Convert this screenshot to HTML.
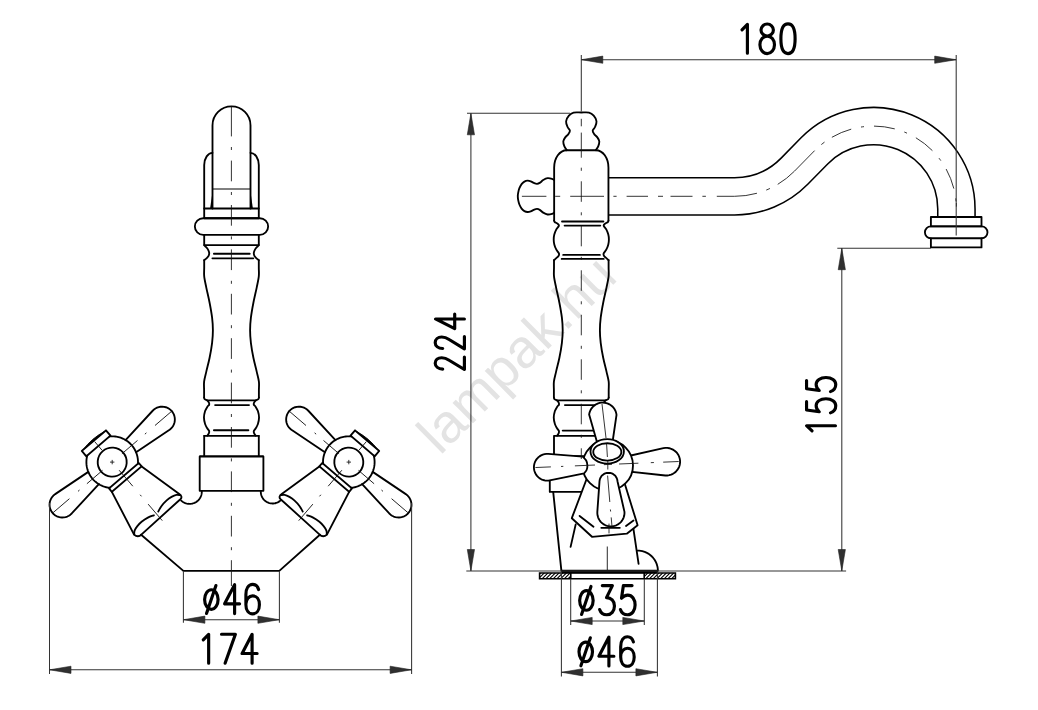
<!DOCTYPE html>
<html><head><meta charset="utf-8"><title>drawing</title>
<style>
html,body{margin:0;padding:0;background:#fff;}
body{width:1038px;height:710px;overflow:hidden;position:relative;font-family:"Liberation Sans",sans-serif;}
svg{position:absolute;left:0;top:0;display:block}
.m{fill:none;stroke:#000;stroke-width:1.85;stroke-linecap:round;stroke-linejoin:round}
.mw{fill:#fff;stroke:#000;stroke-width:1.85;stroke-linecap:round;stroke-linejoin:round}
.k{fill:none;stroke:#000;stroke-width:2.4;stroke-linecap:butt}
.t{fill:none;stroke:#333;stroke-width:1.05;stroke-linecap:butt}
.c{fill:none;stroke:#111;stroke-width:0.85;stroke-linecap:butt}
.g{fill:none;stroke:#000;stroke-width:3.15;stroke-linecap:round;stroke-linejoin:round}
.a{fill:#303030;stroke:#222;stroke-width:0.6;stroke-linejoin:miter}
.wm{font-family:"Liberation Sans",sans-serif;fill:#e3e3e3;mix-blend-mode:multiply}
</style></head><body>
<svg width="1038" height="710" viewBox="0 0 1038 710">
<rect x="0" y="0" width="1038" height="710" fill="#fff"/>
<g id="front">
<path class="m" d="M212.5 208.5 V125.4 A19 19 0 0 1 250.5 125.4 V208.5"/>
<path class="m" d="M212.5 189 L250.5 189" style="stroke-width:1"/>
<path class="m" d="M204.2 208.5 V165 A8.3 12.4 0 0 1 212.5 152.8"/>
<path d="M212.5 192 L212.5 208.5 L210.1 208.5 Z" fill="#000"/>
<path class="m" d="M258.8 208.5 V165 A8.3 12.4 0 0 0 250.5 152.8"/>
<path d="M250.5 192 L250.5 208.5 L252.9 208.5 Z" fill="#000"/>
<path class="m" d="M204.2 208.5 H258.8 V218.2 H204.2 Z"/>
<rect class="m" x="194.85" y="218.2" width="73.3" height="16.7" rx="8.35" ry="8.35"/>
<path class="m" d="M204.2 234.9 V245.1 H258.8 V234.9"/>
<path class="m" d="M204.2 245.1 C204.38 245.3 204.68 245.58 205.3 246.3 C205.92 247.01 207.25 248.29 207.9 249.39 C208.55 250.49 209.08 251.83 209.2 252.9 C209.32 253.97 209.02 254.94 208.6 255.82 C208.18 256.7 207.43 257.43 206.7 258.16 C205.97 258.89 204.62 259.86 204.2 260.2"/>
<path class="m" d="M204.2 260.2 C204.2 261.5 204.2 265.3 204.2 268 C204.2 270.7 203.85 273.13 204.2 276.4 C204.55 279.67 205.4 283.22 206.3 287.6 C207.2 291.98 208.63 297.68 209.6 302.7 C210.57 307.72 211.55 313.12 212.1 317.7 C212.65 322.28 212.9 326.02 212.9 330.2 C212.9 334.38 212.65 338.2 212.1 342.8 C211.55 347.4 210.57 353 209.6 357.8 C208.63 362.6 207.22 367.63 206.3 371.6 C205.38 375.57 204.47 378.53 204.1 381.6 C203.73 384.67 204.1 387.33 204.1 390 C204.1 392.67 204.1 396.33 204.1 397.6"/>
<path class="m" d="M204.1 397.6 C204.23 397.9 204.37 398.93 204.9 399.4 C205.43 399.87 206.63 399.87 207.3 400.4 C207.97 400.93 208.58 401.9 208.9 402.6 C209.22 403.3 209.47 403.88 209.2 404.6 C208.92 405.33 207.93 405.87 207.25 406.95 C206.57 408.03 205.65 409.33 205.1 411.1 C204.55 412.88 203.95 415.43 203.95 417.6 C203.95 419.77 204.55 422.33 205.1 424.1 C205.65 425.88 206.57 427.07 207.25 428.25 C207.93 429.43 208.96 430.31 209.2 431.2 C209.44 432.09 209.02 432.83 208.7 433.6 C208.38 434.37 207.53 435.43 207.3 435.8"/>
<path class="m" d="M258.8 245.1 C258.62 245.3 258.32 245.58 257.7 246.3 C257.08 247.01 255.75 248.29 255.1 249.39 C254.45 250.49 253.92 251.83 253.8 252.9 C253.68 253.97 253.98 254.94 254.4 255.82 C254.82 256.7 255.57 257.43 256.3 258.16 C257.03 258.89 258.38 259.86 258.8 260.2"/>
<path class="m" d="M258.8 260.2 C258.8 261.5 258.8 265.3 258.8 268 C258.8 270.7 259.15 273.13 258.8 276.4 C258.45 279.67 257.6 283.22 256.7 287.6 C255.8 291.98 254.37 297.68 253.4 302.7 C252.43 307.72 251.45 313.12 250.9 317.7 C250.35 322.28 250.1 326.02 250.1 330.2 C250.1 334.38 250.35 338.2 250.9 342.8 C251.45 347.4 252.43 353 253.4 357.8 C254.37 362.6 255.78 367.63 256.7 371.6 C257.62 375.57 258.53 378.53 258.9 381.6 C259.27 384.67 258.9 387.33 258.9 390 C258.9 392.67 258.9 396.33 258.9 397.6"/>
<path class="m" d="M258.9 397.6 C258.77 397.9 258.63 398.93 258.1 399.4 C257.57 399.87 256.37 399.87 255.7 400.4 C255.03 400.93 254.42 401.9 254.1 402.6 C253.78 403.3 253.53 403.88 253.8 404.6 C254.08 405.33 255.07 405.87 255.75 406.95 C256.43 408.03 257.35 409.33 257.9 411.1 C258.45 412.88 259.05 415.43 259.05 417.6 C259.05 419.77 258.45 422.33 257.9 424.1 C257.35 425.88 256.43 427.07 255.75 428.25 C255.07 429.43 254.04 430.31 253.8 431.2 C253.56 432.09 253.98 432.83 254.3 433.6 C254.62 434.37 255.47 435.43 255.7 435.8"/>
<path class="m" d="M213.9 253.7 L249.7 253.7"/>
<path class="m" d="M212.4 258.3 L253.3 258.3"/>
<path class="m" d="M207.6 400.4 L255.4 400.4"/>
<path class="m" d="M215.1 405.1 L249 405.1"/>
<path class="m" d="M213.9 430.2 L248.4 430.2"/>
<path class="m" d="M204.2 435.8 L258.8 435.8"/>
<path class="m" d="M204.2 435.8 V455.9 M258.8 435.8 V455.9"/>
<path class="m" d="M199.7 456.5 V490.8 H263.4 V456.5"/>
<path class="k" d="M199.7 456.4 L263.4 456.4"/>
<path class="m" d="M260.81 491.29 L260.81 492.22 L260.89 493.15 L261.04 494.07 L261.26 494.98 L261.56 495.86 L261.92 496.72 L262.35 497.55 L262.85 498.34 L263.4 499.09 L264.02 499.8 L264.68 500.45 L265.4 501.05 L266.16 501.59 L266.96 502.07 L267.8 502.48 L268.67 502.83 L269.56 503.1 L270.47 503.31 L271.39 503.44 L272.33 503.5 L273.26 503.48 L274.19 503.39 L275.11 503.23 L276.01 503 L276.89 502.69 L277.75 502.32 L278.57 501.88 L279.36 501.37 L280.1 500.81 L280.8 500.19"/>
<path class="m" d="M181.13 500.48 L181.85 501.12 L182.61 501.7 L183.43 502.22 L184.28 502.68 L185.16 503.06 L186.07 503.38 L187.01 503.62 L187.96 503.79 L188.92 503.88 L189.88 503.9 L190.85 503.84 L191.8 503.7 L192.74 503.49 L193.67 503.2 L194.56 502.85 L195.43 502.42 L196.26 501.92 L197.04 501.37 L197.78 500.75 L198.47 500.07 L199.11 499.34 L199.68 498.57 L200.19 497.75 L200.64 496.89 L201.01 496.01 L201.32 495.09 L201.55 494.15 L201.71 493.2 L201.79 492.24 L201.79 491.27"/>
<path class="m" d="M141.1 534.7 L183.4 570.9 L279.3 570.9 L319.9 534.7"/>
<g transform="matrix(0.76 0.65 -0.65 0.76 348.8 462.1)"><path class="m" d="M24.5 -8.1 L64.13 -12.72 M64.13 -12.72 L65.92 -12.8 L67.71 -12.62 L69.46 -12.2 L71.13 -11.54 L72.69 -10.66 L74.11 -9.56 L75.37 -8.27 L76.43 -6.82 L77.28 -5.24 L77.9 -3.55 L78.27 -1.79 L78.4 -0 L78.27 1.79 L77.9 3.55 L77.28 5.24 L76.43 6.82 L75.37 8.27 L74.11 9.56 L72.69 10.66 L71.13 11.54 L69.46 12.2 L67.71 12.62 L65.92 12.8 L64.13 12.72 L24.5 8.1"/><path class="m" d="M-24.5 -8.1 L-64.13 -12.72 M-64.13 -12.72 L-65.92 -12.8 L-67.71 -12.62 L-69.46 -12.2 L-71.13 -11.54 L-72.69 -10.66 L-74.11 -9.56 L-75.37 -8.27 L-76.43 -6.82 L-77.28 -5.24 L-77.9 -3.55 L-78.27 -1.79 L-78.4 -0 L-78.27 1.79 L-77.9 3.55 L-77.28 5.24 L-76.43 6.82 L-75.37 8.27 L-74.11 9.56 L-72.69 10.66 L-71.13 11.54 L-69.46 12.2 L-67.71 12.62 L-65.92 12.8 L-64.13 12.72 L-24.5 8.1"/><path class="m" d="M14.7 -21.2 L15.61 -20.54 L16.48 -19.85 L17.33 -19.11 L18.14 -18.34 L18.92 -17.54 L19.66 -16.7 L20.37 -15.83 L21.04 -14.93 L21.67 -14.01 L22.25 -13.05 L22.8 -12.08 L23.3 -11.07 L23.76 -10.05 L24.17 -9.01 L24.54 -7.95 L24.87 -6.88 L25.14 -5.8 L25.37 -4.7 L25.55 -3.6 L25.68 -2.48 L25.76 -1.37 L25.8 -0.25 L25.79 0.87 L25.72 1.99 L25.61 3.1 L25.45 4.21 L25.25 5.31 L24.99 6.4 L24.69 7.48 L24.34 8.55 L23.95 9.59 L23.51 10.63 L23.03 11.64 L22.5 12.62 L21.93 13.59 L21.32 14.53 L20.67 15.44 L19.98 16.32 L19.25 17.17 L18.49 17.99"/><path class="m" d="M-14.7 -21.2 L-15.61 -20.54 L-16.48 -19.85 L-17.33 -19.11 L-18.14 -18.34 L-18.92 -17.54 L-19.66 -16.7 L-20.37 -15.83 L-21.04 -14.93 L-21.67 -14.01 L-22.25 -13.05 L-22.8 -12.08 L-23.3 -11.07 L-23.76 -10.05 L-24.17 -9.01 L-24.54 -7.95 L-24.87 -6.88 L-25.14 -5.8 L-25.37 -4.7 L-25.55 -3.6 L-25.68 -2.48 L-25.76 -1.37 L-25.8 -0.25 L-25.79 0.87 L-25.72 1.99 L-25.61 3.1 L-25.45 4.21 L-25.25 5.31 L-24.99 6.4 L-24.69 7.48 L-24.34 8.55 L-23.95 9.59 L-23.51 10.63 L-23.03 11.64 L-22.5 12.62 L-21.93 13.59 L-21.32 14.53 L-20.67 15.44 L-19.98 16.32 L-19.25 17.17 L-18.49 17.99"/><path class="m" d="M-14.5 0 A14.5 14.5 0 1 1 14.5 0 A14.5 14.5 0 1 1 -14.5 0 Z"/><path class="m" d="M-15.9 -21.2 H15.9 V-28.2 H-15.9 Z"/><path d="M-14.5 -28.2 Q0 -31.6 14.5 -28.2 Z" fill="#000" stroke="#000" stroke-width="0.8"/><path class="m" d="M-19.6 18 H19.6 V22.4 H-19.6 Z"/><path class="m" d="M-19.6 22.4 L-30.2 67.9 Q-31.3 72.3 -27.7 72.5 L24.6 74 Q29.8 74.6 30.5 69.3 L19.6 22.4"/><path class="m" d="M30.3 69.3 C29.83 68.85 28.8 67.32 27.5 66.6 C26.2 65.88 24.33 65.35 22.5 65 C20.67 64.65 18.75 64.43 16.5 64.5 C14.25 64.57 11.27 64.9 9 65.4 C6.73 65.9 3.92 67.15 2.9 67.5"/><path class="m" d="M-30.3 69.3 C-29.83 68.85 -28.8 67.32 -27.5 66.6 C-26.2 65.88 -24.33 65.35 -22.5 65 C-20.67 64.65 -18.75 64.43 -16.5 64.5 C-14.25 64.57 -11.27 64.9 -9 65.4 C-6.73 65.9 -3.92 67.15 -2.9 67.5"/><path class="c" d="M-79 0 H-56.3 M-45 0 H-43 M-33.3 0 H-12.8 M12.8 0 H33.3 M43 0 H45 M56.3 0 H79"/><path class="c" d="M0 -27 V-15.5 M0 10.7 V31.7 M0 43 V45 M0 55.3 V77"/></g>
<g transform="matrix(-0.76 0.65 0.65 0.76 112.2 462.1)"><path class="m" d="M24.5 -8.1 L64.13 -12.72 M64.13 -12.72 L65.92 -12.8 L67.71 -12.62 L69.46 -12.2 L71.13 -11.54 L72.69 -10.66 L74.11 -9.56 L75.37 -8.27 L76.43 -6.82 L77.28 -5.24 L77.9 -3.55 L78.27 -1.79 L78.4 -0 L78.27 1.79 L77.9 3.55 L77.28 5.24 L76.43 6.82 L75.37 8.27 L74.11 9.56 L72.69 10.66 L71.13 11.54 L69.46 12.2 L67.71 12.62 L65.92 12.8 L64.13 12.72 L24.5 8.1"/><path class="m" d="M-24.5 -8.1 L-64.13 -12.72 M-64.13 -12.72 L-65.92 -12.8 L-67.71 -12.62 L-69.46 -12.2 L-71.13 -11.54 L-72.69 -10.66 L-74.11 -9.56 L-75.37 -8.27 L-76.43 -6.82 L-77.28 -5.24 L-77.9 -3.55 L-78.27 -1.79 L-78.4 -0 L-78.27 1.79 L-77.9 3.55 L-77.28 5.24 L-76.43 6.82 L-75.37 8.27 L-74.11 9.56 L-72.69 10.66 L-71.13 11.54 L-69.46 12.2 L-67.71 12.62 L-65.92 12.8 L-64.13 12.72 L-24.5 8.1"/><path class="m" d="M14.7 -21.2 L15.61 -20.54 L16.48 -19.85 L17.33 -19.11 L18.14 -18.34 L18.92 -17.54 L19.66 -16.7 L20.37 -15.83 L21.04 -14.93 L21.67 -14.01 L22.25 -13.05 L22.8 -12.08 L23.3 -11.07 L23.76 -10.05 L24.17 -9.01 L24.54 -7.95 L24.87 -6.88 L25.14 -5.8 L25.37 -4.7 L25.55 -3.6 L25.68 -2.48 L25.76 -1.37 L25.8 -0.25 L25.79 0.87 L25.72 1.99 L25.61 3.1 L25.45 4.21 L25.25 5.31 L24.99 6.4 L24.69 7.48 L24.34 8.55 L23.95 9.59 L23.51 10.63 L23.03 11.64 L22.5 12.62 L21.93 13.59 L21.32 14.53 L20.67 15.44 L19.98 16.32 L19.25 17.17 L18.49 17.99"/><path class="m" d="M-14.7 -21.2 L-15.61 -20.54 L-16.48 -19.85 L-17.33 -19.11 L-18.14 -18.34 L-18.92 -17.54 L-19.66 -16.7 L-20.37 -15.83 L-21.04 -14.93 L-21.67 -14.01 L-22.25 -13.05 L-22.8 -12.08 L-23.3 -11.07 L-23.76 -10.05 L-24.17 -9.01 L-24.54 -7.95 L-24.87 -6.88 L-25.14 -5.8 L-25.37 -4.7 L-25.55 -3.6 L-25.68 -2.48 L-25.76 -1.37 L-25.8 -0.25 L-25.79 0.87 L-25.72 1.99 L-25.61 3.1 L-25.45 4.21 L-25.25 5.31 L-24.99 6.4 L-24.69 7.48 L-24.34 8.55 L-23.95 9.59 L-23.51 10.63 L-23.03 11.64 L-22.5 12.62 L-21.93 13.59 L-21.32 14.53 L-20.67 15.44 L-19.98 16.32 L-19.25 17.17 L-18.49 17.99"/><path class="m" d="M-14.5 0 A14.5 14.5 0 1 1 14.5 0 A14.5 14.5 0 1 1 -14.5 0 Z"/><path class="m" d="M-15.9 -21.2 H15.9 V-28.2 H-15.9 Z"/><path d="M-14.5 -28.2 Q0 -31.6 14.5 -28.2 Z" fill="#000" stroke="#000" stroke-width="0.8"/><path class="m" d="M-19.6 18 H19.6 V22.4 H-19.6 Z"/><path class="m" d="M-19.6 22.4 L-30.2 67.9 Q-31.3 72.3 -27.7 72.5 L24.6 74 Q29.8 74.6 30.5 69.3 L19.6 22.4"/><path class="m" d="M30.3 69.3 C29.83 68.85 28.8 67.32 27.5 66.6 C26.2 65.88 24.33 65.35 22.5 65 C20.67 64.65 18.75 64.43 16.5 64.5 C14.25 64.57 11.27 64.9 9 65.4 C6.73 65.9 3.92 67.15 2.9 67.5"/><path class="m" d="M-30.3 69.3 C-29.83 68.85 -28.8 67.32 -27.5 66.6 C-26.2 65.88 -24.33 65.35 -22.5 65 C-20.67 64.65 -18.75 64.43 -16.5 64.5 C-14.25 64.57 -11.27 64.9 -9 65.4 C-6.73 65.9 -3.92 67.15 -2.9 67.5"/><path class="c" d="M-79 0 H-56.3 M-45 0 H-43 M-33.3 0 H-12.8 M12.8 0 H33.3 M43 0 H45 M56.3 0 H79"/><path class="c" d="M0 -27 V-15.5 M0 10.7 V31.7 M0 43 V45 M0 55.3 V77"/></g>
<path class="c" d="M346.6 462.1 H351 M348.8 459.9 V464.3 M110 462.1 H114.4 M112.2 459.9 V464.3"/>
<path class="c" d="M231.4 106.3 V136.4 M231.4 147 V150 M231.4 160.6 V181.3 M231.4 192 V195 M231.4 205 V225.7 M231.4 236.4 V239.4 M231.4 249.4 V270.1 M231.4 280.8 V283.8 M231.4 293.8 V314.5 M231.4 325.2 V328.2 M231.4 338.2 V358.9 M231.4 369.6 V372.6 M231.4 382.6 V403.3 M231.4 414 V417 M231.4 427 V447.7 M231.4 458.4 V461.4 M231.4 471.4 V492.1 M231.4 502.8 V505.8 M231.4 515.8 V536.5 M231.4 547.2 V550.2 M231.4 560.2 V586"/>
</g>
<g id="side">
<path d="M608.3 196.3 H734.53 A84 84 0 0 0 794.44 171.18 L814.37 150.89 A82.9 82.9 0 0 1 956.4 209 V216.8" fill="none" stroke="#000" stroke-width="38.85" stroke-linecap="butt"/>
<path d="M608.3 196.3 H734.53 A84 84 0 0 0 794.44 171.18 L814.37 150.89 A82.9 82.9 0 0 1 956.4 209 V218" fill="none" stroke="#fff" stroke-width="35.75" stroke-linecap="butt"/>
<path class="c" d="M521.9 196.3 H734.53 A84 84 0 0 0 794.44 171.18 L814.37 150.89 A82.9 82.9 0 0 1 956.4 209 V203" stroke-dasharray="24.5 8.8 5 10 33.8 9.4 3.2 10 21.4 10 5 7.5 22 9.9 3.5 10.9 40.4 9.8 4 8.8 50.2 9 4 8.8 21 10 3 10 21 10 3 10 21 10 3 10 21 10 3 10 21 10 3 10 21 10 3 10 21 10 3 10 21 10 3 10 21 10 3 10 21 10 3 10 21 10 3 10 21 10 3 10"/>
<path class="m" d="M930.9 217 H981.5 V226.4 H930.9 Z"/>
<rect class="m" x="924.9" y="226.4" width="62.6" height="11.9" rx="5.95" ry="5.95"/>
<path class="m" d="M930.9 238.3 V247.4 H981.5 V238.3"/>
<path class="m" d="M566.7 150.1 C566.3 149.43 564.87 147.55 564.3 146.1 C563.73 144.65 563.17 142.82 563.3 141.4 C563.43 139.98 564.25 138.82 565.1 137.6 C565.95 136.38 567.6 135.25 568.4 134.1 C569.2 132.95 570.03 131.88 569.9 130.7 C569.77 129.52 568.23 128.57 567.6 127 C566.97 125.43 565.88 123.18 566.1 121.3 C566.32 119.42 567.65 117.15 568.9 115.7 C570.15 114.25 571.53 113.13 573.6 112.6 C575.67 112.07 578.73 112.5 581.3 112.5 C583.87 112.5 586.93 112.07 589 112.6 C591.07 113.13 592.45 114.25 593.7 115.7 C594.95 117.15 596.28 119.42 596.5 121.3 C596.72 123.18 595.63 125.43 595 127 C594.37 128.57 592.83 129.52 592.7 130.7 C592.57 131.88 593.4 132.95 594.2 134.1 C595 135.25 596.65 136.38 597.5 137.6 C598.35 138.82 599.17 139.98 599.3 141.4 C599.43 142.82 598.87 144.65 598.3 146.1 C597.73 147.55 596.3 149.43 595.9 150.1"/>
<path class="m" d="M566.6 150.2 H596"/>
<path class="m" d="M566.6 150.2 A12.45 17.5 0 0 0 554.15 167.7 V220.6"/>
<path class="m" d="M554.15 220.6 C554.24 220.83 554.14 221.5 554.7 222 C555.26 222.5 556.8 222.98 557.5 223.6 C558.2 224.22 559.12 224.7 558.9 225.7 C558.68 226.7 556.97 228.12 556.2 229.6 C555.43 231.08 554.72 232.97 554.3 234.6 C553.88 236.23 553.7 237.77 553.7 239.4 C553.7 241.03 553.88 242.73 554.3 244.4 C554.72 246.07 555.42 247.87 556.2 249.4 C556.98 250.93 558.62 252.5 559 253.6 C559.38 254.7 558.92 255.28 558.5 256 C558.08 256.72 557.25 257.2 556.5 257.9 C555.75 258.6 554.42 259.82 554 260.2"/>
<path class="m" d="M596 150.2 A12.45 17.5 0 0 1 608.45 167.7 V220.6"/>
<path class="m" d="M608.45 220.6 C608.36 220.83 608.46 221.5 607.9 222 C607.34 222.5 605.8 222.98 605.1 223.6 C604.4 224.22 603.48 224.7 603.7 225.7 C603.92 226.7 605.63 228.12 606.4 229.6 C607.17 231.08 607.88 232.97 608.3 234.6 C608.72 236.23 608.9 237.77 608.9 239.4 C608.9 241.03 608.72 242.73 608.3 244.4 C607.88 246.07 607.18 247.87 606.4 249.4 C605.62 250.93 603.98 252.5 603.6 253.6 C603.22 254.7 603.68 255.28 604.1 256 C604.52 256.72 605.35 257.2 606.1 257.9 C606.85 258.6 608.18 259.82 608.6 260.2"/>
<path class="m" d="M562 221.5 L603.4 221.5"/>
<path class="m" d="M564.6 225.6 L600.3 225.6"/>
<path class="m" d="M563.2 254.9 L599.9 254.9"/>
<path class="m" d="M561.7 258.9 L603.7 258.9"/>
<path class="m" d="M554.15 180.05 C553.79 179.84 553.09 179.11 552 178.8 C550.91 178.49 549.07 177.99 547.6 178.2 C546.13 178.41 544.45 179.32 543.2 180.05 C541.95 180.78 541.13 181.97 540.1 182.6 C539.07 183.22 538.05 183.75 537 183.8 C535.95 183.85 534.85 183.32 533.8 182.9 C532.75 182.48 531.73 181.67 530.7 181.3 C529.67 180.93 528.65 180.65 527.6 180.7 C526.55 180.75 525.4 181.03 524.4 181.6 C523.4 182.17 522.43 183 521.6 184.1 C520.77 185.2 519.97 186.78 519.4 188.2 C518.83 189.62 518.47 191.24 518.2 192.6 C517.93 193.96 517.8 195.1 517.8 196.35 C517.8 197.6 517.93 198.74 518.2 200.1 C518.47 201.46 518.83 203.08 519.4 204.5 C519.97 205.92 520.77 207.5 521.6 208.6 C522.43 209.7 523.4 210.53 524.4 211.1 C525.4 211.67 526.55 211.95 527.6 212 C528.65 212.05 529.67 211.77 530.7 211.4 C531.73 211.03 532.75 210.22 533.8 209.8 C534.85 209.38 535.95 208.85 537 208.9 C538.05 208.95 539.07 209.47 540.1 210.1 C541.13 210.72 541.95 211.92 543.2 212.65 C544.45 213.38 546.13 214.29 547.6 214.5 C549.07 214.71 550.91 214.21 552 213.9 C553.09 213.59 553.79 212.86 554.15 212.65"/>
<path class="m" d="M554 260.2 C554 261.5 554 265.3 554 268 C554 270.7 553.65 273.13 554 276.4 C554.35 279.67 555.2 283.22 556.1 287.6 C557 291.98 558.43 297.68 559.4 302.7 C560.37 307.72 561.35 313.12 561.9 317.7 C562.45 322.28 562.7 326.02 562.7 330.2 C562.7 334.38 562.45 338.2 561.9 342.8 C561.35 347.4 560.37 353 559.4 357.8 C558.43 362.6 557.02 367.63 556.1 371.6 C555.18 375.57 554.27 378.53 553.9 381.6 C553.53 384.67 553.9 387.33 553.9 390 C553.9 392.67 553.9 396.33 553.9 397.6"/>
<path class="m" d="M553.9 397.6 C554.03 397.9 554.17 398.93 554.7 399.4 C555.23 399.87 556.43 399.87 557.1 400.4 C557.77 400.93 558.38 401.9 558.7 402.6 C559.02 403.3 559.27 403.88 559 404.6 C558.73 405.33 557.73 405.87 557.05 406.95 C556.37 408.03 555.45 409.33 554.9 411.1 C554.35 412.88 553.75 415.43 553.75 417.6 C553.75 419.77 554.35 422.33 554.9 424.1 C555.45 425.88 556.37 427.07 557.05 428.25 C557.73 429.43 558.76 430.31 559 431.2 C559.24 432.09 558.82 432.83 558.5 433.6 C558.18 434.37 557.33 435.43 557.1 435.8"/>
<path class="m" d="M608.6 260.2 C608.6 261.5 608.6 265.3 608.6 268 C608.6 270.7 608.95 273.13 608.6 276.4 C608.25 279.67 607.4 283.22 606.5 287.6 C605.6 291.98 604.17 297.68 603.2 302.7 C602.23 307.72 601.25 313.12 600.7 317.7 C600.15 322.28 599.9 326.02 599.9 330.2 C599.9 334.38 600.15 338.2 600.7 342.8 C601.25 347.4 602.23 353 603.2 357.8 C604.17 362.6 605.58 367.63 606.5 371.6 C607.42 375.57 608.33 378.53 608.7 381.6 C609.07 384.67 608.7 387.33 608.7 390 C608.7 392.67 608.7 396.33 608.7 397.6"/>
<path class="m" d="M608.7 397.6 C608.57 397.9 608.43 398.93 607.9 399.4 C607.37 399.87 606.17 399.87 605.5 400.4 C604.83 400.93 604.22 401.9 603.9 402.6 C603.58 403.3 603.32 403.88 603.6 404.6 C603.87 405.33 604.87 405.87 605.55 406.95 C606.23 408.03 607.15 409.33 607.7 411.1 C608.25 412.88 608.85 415.43 608.85 417.6 C608.85 419.77 608.25 422.33 607.7 424.1 C607.15 425.88 606.23 427.07 605.55 428.25 C604.87 429.43 603.84 430.31 603.6 431.2 C603.36 432.09 603.78 432.83 604.1 433.6 C604.42 434.37 605.27 435.43 605.5 435.8"/>
<path class="m" d="M557.4 400.4 L605.2 400.4"/>
<path class="m" d="M564.9 405.1 L598.8 405.1"/>
<path class="m" d="M562.7 430.6 L598.2 430.6"/>
<path class="m" d="M554 435.8 H608.6 M554 435.8 V455.9 M608.6 435.8 V455.9"/>
<path class="m" d="M549.8 456.5 V491.9 H582.3"/>
<path class="k" d="M549.8 456.4 L612.8 456.4"/>
<path class="m" d="M553.2 491.9 L561.4 570.9"/>
<path class="m" d="M575.7 524.4 L570.6 546.9"/>
<path class="m" d="M633.4 528.6 L638.6 563.9"/>
<path class="m" d="M637.6 550.6 L639.19 550.66 L640.78 550.85 L642.34 551.16 L643.87 551.59 L645.37 552.15 L646.82 552.81 L648.21 553.59 L649.53 554.48 L650.78 555.46 L651.95 556.55 L653.04 557.72 L654.02 558.97 L654.91 560.29 L655.69 561.68 L656.35 563.13 L656.91 564.63 L657.34 566.16 L657.65 567.72 L657.84 569.31 L657.9 570.9"/>
<path class="t" d="M607.3 546.4 L607.3 570.9"/>
<path class="mw" d="M587 478 L571.8 518.2 L592 536.8 L626.8 533.7 L637.6 525.2 L623.6 480"/>
<path class="m" d="M579.6 515.9 L593.5 526.7"/>
<path class="m" d="M626 526 L633.5 520.5"/>
<path class="m" d="M601.3 527.8 L619.8 527.8"/>
<path class="mw" d="M622 457.5 L663.43 448.2 L665.38 447.93 L667.34 447.94 L669.29 448.23 L671.17 448.79 L672.96 449.61 L674.61 450.68 L676.09 451.97 L677.37 453.46 L678.43 455.12 L679.24 456.9 L679.79 458.79 L680.07 460.74 L680.06 462.7 L679.78 464.65 L679.23 466.53 L678.41 468.32 L677.35 469.97 L676.06 471.46 L674.57 472.75 L672.92 473.81 L671.13 474.63 L669.25 475.18 L667.3 475.46 L665.34 475.47 L622.8 470.8 Z"/>
<path class="mw" d="M598.4 447 L589.13 414.48 L589.47 412.85 L589.99 411.27 L590.7 409.76 L591.59 408.35 L592.64 407.06 L593.84 405.91 L595.17 404.9 L596.61 404.07 L598.14 403.41 L599.73 402.94 L601.38 402.67 L603.04 402.6 L604.7 402.73 L606.33 403.06 L607.91 403.58 L609.42 404.29 L610.83 405.18 L612.12 406.23 L613.28 407.42 L614.29 408.75 L615.12 410.19 L615.78 411.72 L616.25 413.32 L616.52 414.96 L611.8 447 Z"/>
<circle class="mw" cx="607.8" cy="465.4" r="25.2"/>
<path class="mw" d="M584.2 473.3 L548.47 480.65 L546.63 480.68 L544.8 480.46 L543.02 480 L541.32 479.29 L539.73 478.36 L538.29 477.22 L537.02 475.89 L535.94 474.4 L535.07 472.78 L534.44 471.05 L534.04 469.25 L533.9 467.42 L534.01 465.58 L534.37 463.78 L534.98 462.04 L535.81 460.4 L536.87 458.89 L538.12 457.54 L539.54 456.37 L541.11 455.41 L542.8 454.68 L544.57 454.18 L546.39 453.93 L548.23 453.93 L582.7 456.7 C583.28 457.33 585.42 459.05 586.2 460.5 C586.98 461.95 587.33 463.82 587.4 465.4 C587.47 466.98 587.13 468.68 586.6 470 C586.07 471.32 584.6 472.75 584.2 473.3 Z"/>
<ellipse class="mw" cx="607.2" cy="451.4" rx="16.7" ry="12.2"/>
<ellipse class="m" cx="607.3" cy="451.9" rx="14.05" ry="8.65"/>
<path class="mw" d="M599.52 481.17 L599.8 479.51 L600.38 477.93 L601.24 476.48 L602.36 475.22 L603.7 474.19 L605.2 473.43 L606.82 472.96 L608.5 472.8 L610.18 472.96 L611.8 473.43 L613.3 474.19 L614.64 475.22 L615.76 476.48 L616.62 477.93 L617.2 479.51 L617.48 481.17 L624.47 511.85 L624.47 513.71 L624.22 515.55 L623.72 517.34 L622.98 519.04 L622.02 520.63 L620.85 522.08 L619.49 523.34 L617.97 524.42 L616.32 525.27 L614.57 525.89 L612.75 526.27 L610.9 526.4 L609.05 526.27 L607.23 525.89 L605.48 525.27 L603.83 524.42 L602.31 523.34 L600.95 522.08 L599.78 520.63 L598.82 519.04 L598.08 517.34 L597.58 515.55 L597.33 513.71 L597.33 511.85 Z"/>
<path class="c" d="M535.4 467.54 L550.9 466.89 M561.0 466.46 L563.3 466.36 M574.9 465.87 L595.0 465.03 M604.0 464.65 L612.0 464.31 M619.0 464.01 L638.4 463.20 M650.8 462.67 L653.9 462.54 M663.2 462.15 L678.7 461.50"/>
<path class="c" d="M602 404 L606 438 M606.6 444 L607.4 457 M607.8 461 V469.5 M607.6 475.6 L609.8 502 M610.4 509.5 L610.6 511.5 M611.2 517.4 L612 526.7 M609 523.6 V533.4"/>
<path class="c" d="M581.3 118.8 V126.3 M581.3 132.6 V157.7 M581.3 167.7 V170.8 M581.3 181.3 V201.8 M581.3 212.3 V215.3 M581.3 225.8 V246.3 M581.3 256.8 V259.8 M581.3 270.3 V290.8 M581.3 301.3 V304.3 M581.3 314.8 V335.3 M581.3 345.8 V348.8 M581.3 359.3 V379.8 M581.3 390.3 V393.3 M581.3 403.8 V424.3 M581.3 434.8 V437.8 M581.3 448.3 V459"/>
<path d="M561.4 571.55 H657.9" stroke="#000" stroke-width="3.6" fill="none"/>
<defs><clipPath id="hc"><rect x="539.4" y="573" width="31.3" height="5.8"/><rect x="644.3" y="573" width="31.3" height="5.8"/></clipPath></defs>
<path d="M530 579.8 L537.8 572 M533.7 579.8 L541.5 572 M537.4 579.8 L545.2 572 M541.1 579.8 L548.9 572 M544.8 579.8 L552.6 572 M548.5 579.8 L556.3 572 M552.2 579.8 L560 572 M555.9 579.8 L563.7 572 M559.6 579.8 L567.4 572 M563.3 579.8 L571.1 572 M567 579.8 L574.8 572 M570.7 579.8 L578.5 572 M574.4 579.8 L582.2 572 M578.1 579.8 L585.9 572 M581.8 579.8 L589.6 572 M585.5 579.8 L593.3 572 M589.2 579.8 L597 572 M592.9 579.8 L600.7 572 M596.6 579.8 L604.4 572 M600.3 579.8 L608.1 572 M604 579.8 L611.8 572 M607.7 579.8 L615.5 572 M611.4 579.8 L619.2 572 M615.1 579.8 L622.9 572 M618.8 579.8 L626.6 572 M622.5 579.8 L630.3 572 M626.2 579.8 L634 572 M629.9 579.8 L637.7 572 M633.6 579.8 L641.4 572 M637.3 579.8 L645.1 572 M641 579.8 L648.8 572 M644.7 579.8 L652.5 572 M648.4 579.8 L656.2 572 M652.1 579.8 L659.9 572 M655.8 579.8 L663.6 572 M659.5 579.8 L667.3 572 M663.2 579.8 L671 572 M666.9 579.8 L674.7 572 M670.6 579.8 L678.4 572 M674.3 579.8 L682.1 572 M678 579.8 L685.8 572 M681.7 579.8 L689.5 572 M685.4 579.8 L693.2 572 M689.1 579.8 L696.9 572" stroke="#000" stroke-width="1.1" fill="none" clip-path="url(#hc)"/>
<path d="M539.6 573 H675.4 V578.8 H539.6 Z M570.8 573 V578.8 M644.2 573 V578.8" fill="none" stroke="#000" stroke-width="1.6"/>
</g>
<g id="dims">
<path class="t" d="M581.3 55 L581.3 111.6"/>
<path class="t" d="M956.2 55 L956.2 235.4"/>
<path class="t" d="M581.3 59.7 L956.2 59.7"/>
<path class="a" d="M581.5 59.7 L602.8 63.3 L602.8 56.1 Z"/>
<path class="a" d="M956 59.7 L934.7 56.1 L934.7 63.3 Z"/>
<g class="g"><path d="M3.6 5.5 L9 0 L9 28.9" transform="translate(738.4 24.3)"/><path d="M1.1 5.7 A6.2 6 0 1 1 13.5 5.7 A6.2 6 0 1 1 1.1 5.7 Z M0 20.5 A7.3 8.75 0 1 1 14.6 20.5 A7.3 8.75 0 1 1 0 20.5 Z" transform="translate(759.9 24.3)"/><path d="M0 14.45 C0 4.33 2.5 -0.35 7.1 -0.35 C11.7 -0.35 14.2 4.33 14.2 14.45 C14.2 24.56 11.7 29.25 7.1 29.25 C2.5 29.25 0 24.56 0 14.45 Z" transform="translate(780.9 24.3)"/></g>
<path class="t" d="M467 113.3 L570 113.3"/>
<path class="t" d="M470.9 113.3 L470.9 571"/>
<path class="a" d="M470.9 113.5 L467.3 134.8 L474.5 134.8 Z"/>
<path class="a" d="M470.9 570.8 L474.5 549.5 L467.3 549.5 Z"/>
<g class="g" transform="translate(464.4 369.5) rotate(-90) scale(0.965 1)"><path d="M0.4 7.2 C0.6 2.8 2.9 -0.3 6.4 -0.3 C9.9 -0.3 12.2 2.4 12.2 6.2 C12.2 9.3 11.2 11.4 9.6 13.6 L0 28.9 L12.9 28.9" transform="translate(0 -28.9)"/><path d="M0.4 7.2 C0.6 2.8 2.9 -0.3 6.4 -0.3 C9.9 -0.3 12.2 2.4 12.2 6.2 C12.2 9.3 11.2 11.4 9.6 13.6 L0 28.9 L12.9 28.9" transform="translate(21.4 -28.9)"/><path d="M10 28.9 L10 0 L0 19.2 L15 19.2" transform="translate(42.4 -28.9)"/></g>
<path class="t" d="M466.3 571 L846.1 571"/>
<path class="t" d="M837.3 248.2 L930.8 248.2"/>
<path class="t" d="M841.8 248.2 L841.8 571"/>
<path class="a" d="M841.8 248.4 L838.2 269.7 L845.4 269.7 Z"/>
<path class="a" d="M841.8 570.8 L845.4 549.5 L838.2 549.5 Z"/>
<g class="g" transform="translate(835.45 434.4) rotate(-90) scale(0.965 1)"><path d="M3.6 5.5 L9 0 L9 28.9" transform="translate(0 -28.9)"/><path d="M11.65 0 L3 0 L1.1 12.7 C2.8 10.8 4.8 9.6 7.3 9.6 C11.8 9.6 14.7 13.8 14.7 19.4 C14.7 25.2 11.6 29.2 7.3 29.2 C3.8 29.2 1 27 0 23.9" transform="translate(22.3 -28.9)"/><path d="M11.65 0 L3 0 L1.1 12.7 C2.8 10.8 4.8 9.6 7.3 9.6 C11.8 9.6 14.7 13.8 14.7 19.4 C14.7 25.2 11.6 29.2 7.3 29.2 C3.8 29.2 1 27 0 23.9" transform="translate(44.3 -28.9)"/></g>
<path class="t" d="M183.4 571 L183.4 622.8"/>
<path class="t" d="M279.4 571 L279.4 622.8"/>
<path class="t" d="M183.4 619.7 L279.4 619.7"/>
<path class="a" d="M183.6 619.7 L204.9 623.3 L204.9 616.1 Z"/>
<path class="a" d="M279.2 619.7 L257.9 616.1 L257.9 623.3 Z"/>
<g class="g"><path d="M0 14.85 A6.75 9.8 0 1 1 13.5 14.85 A6.75 9.8 0 1 1 0 14.85 Z M11.35 0.85 L1.9 28.85" transform="translate(204.6 584.65)"/><path d="M10 28.9 L10 0 L0 19.2 L15 19.2" transform="translate(224.6 584.65)"/><path d="M12.7 4.9 C11.8 1.8 9.7 -0.3 6.8 -0.3 C2.7 -0.3 0 3.8 0 9.8 L0 20 C0 25.6 2.7 29.2 6.75 29.2 C10.7 29.2 13.5 25.6 13.5 20 C13.5 14.8 10.7 11.2 6.75 11.2 C3.2 11.2 0 14.6 0 19.4" transform="translate(245.9 584.65)"/></g>
<path class="t" d="M49.5 503 L49.5 674"/>
<path class="t" d="M411.6 503 L411.6 674"/>
<path class="t" d="M49.5 669.8 L411.6 669.8"/>
<path class="a" d="M49.7 669.8 L71 673.4 L71 666.2 Z"/>
<path class="a" d="M411.4 669.8 L390.1 666.2 L390.1 673.4 Z"/>
<g class="g"><path d="M3.6 5.5 L9 0 L9 28.9" transform="translate(199.65 634.3)"/><path d="M0 0 L13.9 0 L3.6 28.9" transform="translate(221.5 634.3)"/><path d="M10 28.9 L10 0 L0 19.2 L15 19.2" transform="translate(242.1 634.3)"/></g>
<path class="t" d="M570.7 579 L570.7 624.9"/>
<path class="t" d="M644.3 579 L644.3 624.9"/>
<path class="t" d="M570.7 621 L644.3 621"/>
<path class="a" d="M570.9 621 L592.2 624.6 L592.2 617.4 Z"/>
<path class="a" d="M644.1 621 L622.8 617.4 L622.8 624.6 Z"/>
<g class="g"><path d="M0 14.85 A6.75 9.8 0 1 1 13.5 14.85 A6.75 9.8 0 1 1 0 14.85 Z M11.35 0.85 L1.9 28.85" transform="translate(579.65 585.6)"/><path d="M2.7 0 L12.8 0 L6.9 12 C11.5 12 14.85 15.4 14.85 20.4 C14.85 25.6 11.6 29.2 7.2 29.2 C3.6 29.2 1 27 0 23.9" transform="translate(599.6 585.6)"/><path d="M11.65 0 L3 0 L1.1 12.7 C2.8 10.8 4.8 9.6 7.3 9.6 C11.8 9.6 14.7 13.8 14.7 19.4 C14.7 25.2 11.6 29.2 7.3 29.2 C3.8 29.2 1 27 0 23.9" transform="translate(620.4 585.6)"/></g>
<path class="t" d="M561.4 572 L561.4 676.5"/>
<path class="t" d="M657.4 572 L657.4 676.5"/>
<path class="t" d="M561.4 672.3 L657.4 672.3"/>
<path class="a" d="M561.6 672.3 L582.9 675.9 L582.9 668.7 Z"/>
<path class="a" d="M657.2 672.3 L635.9 668.7 L635.9 675.9 Z"/>
<g class="g"><path d="M0 14.85 A6.75 9.8 0 1 1 13.5 14.85 A6.75 9.8 0 1 1 0 14.85 Z M11.35 0.85 L1.9 28.85" transform="translate(579 637)"/><path d="M10 28.9 L10 0 L0 19.2 L15 19.2" transform="translate(598.9 637)"/><path d="M12.7 4.9 C11.8 1.8 9.7 -0.3 6.8 -0.3 C2.7 -0.3 0 3.8 0 9.8 L0 20 C0 25.6 2.7 29.2 6.75 29.2 C10.7 29.2 13.5 25.6 13.5 20 C13.5 14.8 10.7 11.2 6.75 11.2 C3.2 11.2 0 14.6 0 19.4" transform="translate(620.7 637)"/></g>
</g>
<text class="wm" x="0" y="0" font-size="54.6" transform="translate(440 456) rotate(-44.7)">lampak.hu</text>
</svg>
</body></html>
